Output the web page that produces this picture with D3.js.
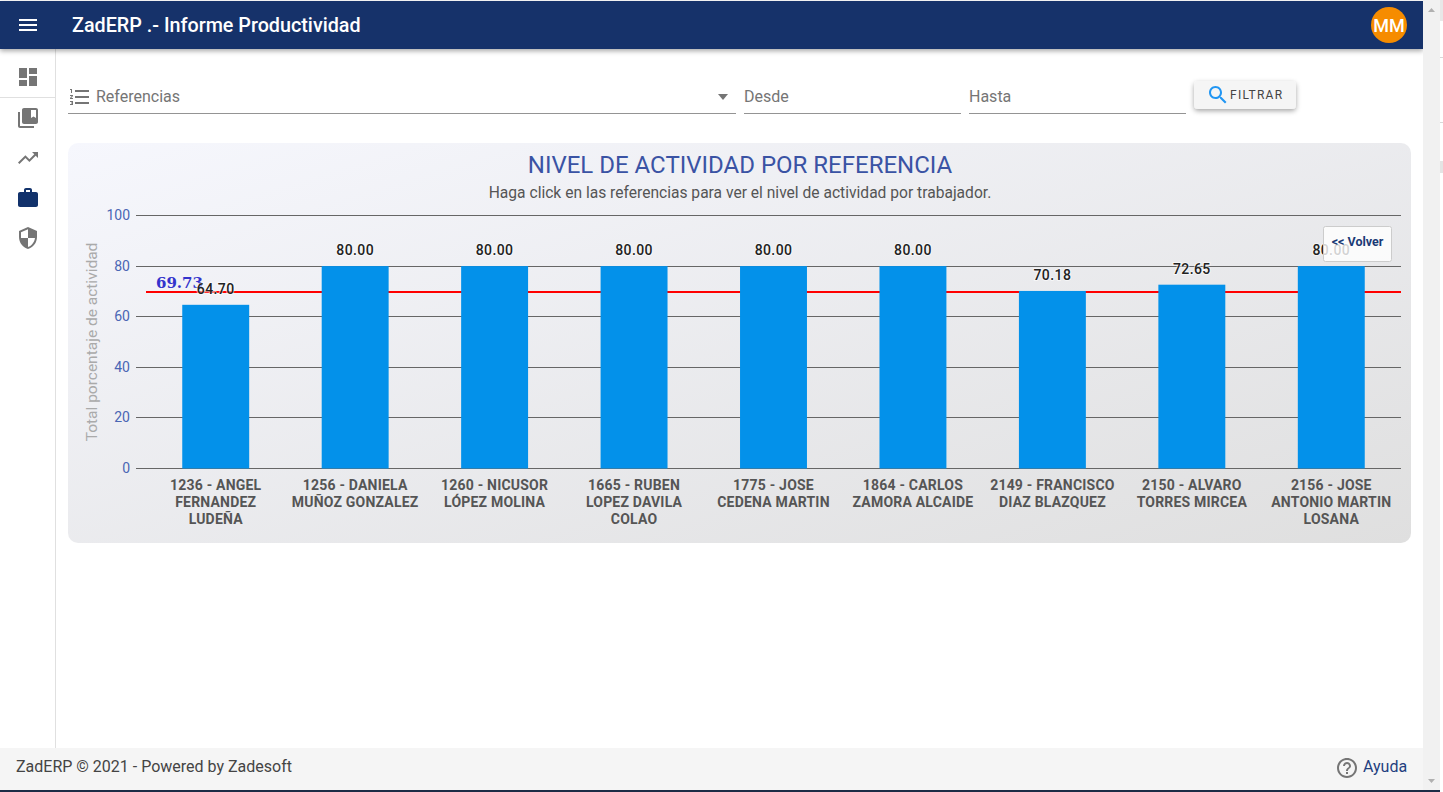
<!DOCTYPE html>
<html lang="es"><head><meta charset="utf-8"><title>ZadERP</title>
<script src="https://cdn.jsdelivr.net/npm/d3@7/dist/d3.min.js"></script>
<style>html,body{margin:0;padding:0;background:#fff;overflow:hidden}svg{display:block;font-family:Roboto,sans-serif}</style>
</head><body><svg id="c" width="1443" height="792"></svg>
<script>
const categories = [
  ["1236 - ANGEL","FERNANDEZ","LUDEÑA"],
  ["1256 - DANIELA","MUÑOZ GONZALEZ"],
  ["1260 - NICUSOR","LÓPEZ MOLINA"],
  ["1665 - RUBEN","LOPEZ DAVILA","COLAO"],
  ["1775 - JOSE","CEDENA MARTIN"],
  ["1864 - CARLOS","ZAMORA ALCAIDE"],
  ["2149 - FRANCISCO","DIAZ BLAZQUEZ"],
  ["2150 - ALVARO","TORRES MIRCEA"],
  ["2156 - JOSE","ANTONIO MARTIN","LOSANA"]
];
const values = [64.70,80,80,80,80,80,70.18,72.65,80];
const average = 69.73;
const yTicks = [0,20,40,60,80,100];

const ICON = {
  menu:"M3 18h18v-2H3v2zm0-5h18v-2H3v2zm0-7v2h18V6H3z",
  dash:"M3 13h8V3H3v10zm0 8h8v-6H3v6zm10 0h8V11h-8v10zm0-18v6h8V3h-8z",
  lib:"M4 6H2v14c0 1.1.9 2 2 2h14v-2H4V6zm16-4H8c-1.1 0-2 .9-2 2v12c0 1.1.9 2 2 2h12c1.1 0 2-.9 2-2V4c0-1.1-.9-2-2-2zm0 10l-2.5-1.5L15 12V4h5v8z",
  trend:"M16 6l2.29 2.29-4.88 4.88-4-4L2 16.59 3.41 18l6-6 4 4 6.3-6.29L22 12V6z",
  work:"M20 6h-4V4c0-1.11-.89-2-2-2h-4c-1.11 0-2 .89-2 2v2H4c-1.11 0-1.99.89-1.99 2L2 19c0 1.11.89 2 2 2h16c1.11 0 2-.89 2-2V8c0-1.11-.89-2-2-2zm-6 0h-4V4h4v2z",
  sec:"M12 1L3 5v6c0 5.55 3.84 10.74 9 12 5.16-1.26 9-6.45 9-12V5l-9-4zm0 10.99h7c-.53 4.12-3.28 7.79-7 8.94V12H5V6.3l7-3.11v8.8z",
  list:"M2 17h2v.5H3v1h1v.5H2v1h3v-4H2v1zm1-9h1V4H2v1h1v3zm-1 3h1.8L2 13.1v.9h3v-1H3.2L5 10.9V10H2v1zm5-6v2h14V5H7zm0 14h14v-2H7v2zm0-6h14v-2H7v2z",
  search:"M15.5 14h-.79l-.28-.27C15.41 12.59 16 11.11 16 9.5 16 5.91 13.09 3 9.5 3S3 5.91 3 9.5 5.91 16 9.5 16c1.61 0 3.09-.59 4.23-1.57l.27.28v.79l5 4.99L20.49 19l-4.99-5zm-6 0C7.01 14 5 11.99 5 9.5S7.01 5 9.5 5 14 7.01 14 9.5 11.99 14 9.5 14z",
  help:"M11 18h2v-2h-2v2zm1-16C6.48 2 2 6.48 2 12s4.48 10 10 10 10-4.48 10-10S17.52 2 12 2zm0 18c-4.41 0-8-3.59-8-8s3.59-8 8-8 8 3.59 8 8-3.59 8-8 8zm0-14c-2.21 0-4 1.79-4 4h2c0-1.1.9-2 2-2s2 .9 2 2c0 2-3 1.75-3 5h2c0-2.25 3-2.5 3-5 0-2.21-1.79-4-4-4z"
};

const svg = d3.select("#c");
const defs = svg.append("defs");
const grad = defs.append("linearGradient").attr("id","panel").attr("x1","0").attr("y1","0").attr("x2","1").attr("y2","1");
grad.append("stop").attr("offset","0").attr("stop-color","#f6f7fd");
grad.append("stop").attr("offset","1").attr("stop-color","#dfdfdf");
const sh = defs.append("filter").attr("id","sh").attr("x","-10%").attr("y","-50%").attr("width","120%").attr("height","220%");
sh.append("feDropShadow").attr("dx",0).attr("dy",2).attr("stdDeviation",2.5).attr("flood-color","#000").attr("flood-opacity",0.35);

function rect(x,y,w,h,fill,rx){return svg.append("rect").attr("x",x).attr("y",y).attr("width",w).attr("height",h).attr("fill",fill).attr("rx",rx||0);}
function icon(d,x,y,fill,s){return svg.append("path").attr("d",d).attr("fill",fill).attr("transform",`translate(${x},${y}) scale(${s||1})`);}
function text(t,x,y,size,fill,o){const e=svg.append("text").text(t).attr("x",x).attr("y",y).attr("font-size",size).attr("fill",fill);
  o=o||{};if(o.anchor)e.attr("text-anchor",o.anchor);if(o.weight)e.attr("font-weight",o.weight);if(o.ls)e.attr("letter-spacing",o.ls);if(o.family)e.attr("font-family",o.family);return e;}

// sidebar
svg.append("line").attr("x1",55.5).attr("x2",55.5).attr("y1",49).attr("y2",748).attr("stroke","#e0e0e0");
svg.append("line").attr("x1",0).attr("x2",55).attr("y1",97.5).attr("y2",97.5).attr("stroke","#e0e0e0");
icon(ICON.dash,16,65,"#757575");
icon(ICON.lib,16,106,"#757575");
icon(ICON.trend,16,146,"#757575");
icon(ICON.work,16,186,"#12326b");
icon(ICON.sec,16,226,"#757575");

// header
rect(0,1,1423,48,"#12326b").attr("filter","url(#sh)");
icon(ICON.menu,16,13,"#fff");
text("ZadERP .- Informe Productividad",72,32,19.75,"#fff",{weight:500});
svg.append("circle").attr("cx",1389).attr("cy",25).attr("r",18).attr("fill","#f68c00");
text("MM",1389,31.5,18,"#fff",{anchor:"middle",weight:500});

// filters
icon(ICON.list,68,85,"#757575",1);
text("Referencias",96,102,16,"#757575");
svg.append("path").attr("d",d3.line()([[718,94],[728,94],[723,100]])+"Z").attr("fill","#757575");
text("Desde",744,102,16,"#757575");
text("Hasta",969,102,16,"#757575");
[[68,736],[744,961],[969,1186]].forEach(s=>svg.append("line").attr("x1",s[0]).attr("x2",s[1]).attr("y1",113.5).attr("y2",113.5).attr("stroke","#949494"));
rect(1194,81,102,28,"#f5f5f5",4).attr("filter","url(#sh)");
icon(ICON.search,1206,83,"#2196f3");
text("FILTRAR",1230,99,12,"#444",{weight:400,ls:1.25});

// panel
rect(68,143,1343,400,"url(#panel)",10);
text("NIVEL DE ACTIVIDAD POR REFERENCIA",740,173,24,"#3a53a4",{anchor:"middle"});
text("Haga click en las referencias para ver el nivel de actividad por trabajador.",740,198,15.6,"#555",{anchor:"middle"});

// chart
const y = d3.scaleLinear().domain([0,100]).range([468.5,215.5]);
const x = d3.scaleBand().domain(categories.map(c=>c.join(" "))).range([146,1401]).paddingInner(0.52).paddingOuter(0.26);

const yAxis = svg.append("g").attr("transform","translate(1401,0)")
  .call(d3.axisLeft(y).tickValues(yTicks).tickSize(1265).tickPadding(6).offset(0));
yAxis.select(".domain").remove();
yAxis.selectAll(".tick").attr("transform",d=>`translate(0,${Math.floor(y(d))+0.5})`);
yAxis.selectAll("line").attr("stroke","#666");
yAxis.selectAll("text").attr("font-size",14).attr("font-family","Roboto").attr("fill","#4a66b4");

text("Total porcentaje de actividad",0,0,15.5,"#aaa",{anchor:"middle"}).attr("transform","translate(97,342) rotate(-90)");

svg.append("line").attr("x1",146).attr("x2",1401).attr("y1",y(average)).attr("y2",y(average)).attr("stroke","#f00").attr("stroke-width",2);
text(average.toFixed(2),156,288,15,"#3333cc",{weight:700,family:"'DejaVu Serif',serif"});

svg.append("g").selectAll("rect").data(values).join("rect")
  .attr("x",(d,i)=>x(categories[i].join(" ")))
  .attr("width",x.bandwidth())
  .attr("y",d=>y(d)).attr("height",d=>y(0)-y(d)).attr("fill","#0391ea");

svg.append("g").selectAll("text").data(values).join("text")
  .attr("x",(d,i)=>x(categories[i].join(" "))+x.bandwidth()/2)
  .attr("y",d=>y(d)-11).attr("text-anchor","middle")
  .attr("font-size",14).attr("font-weight",500).attr("letter-spacing",0.4).attr("fill","#222")
  .attr("stroke","#fff").attr("stroke-width",2).attr("paint-order","stroke").attr("stroke-opacity",0.6)
  .text(d=>d.toFixed(2));

const xAxis = svg.append("g").attr("transform","translate(0,468.5)").call(d3.axisBottom(x).tickSize(0).tickFormat(""));
xAxis.select(".domain").remove();
xAxis.selectAll(".tick text").each(function(d,i){
  const t=d3.select(this).attr("font-size",14).attr("font-weight",700).attr("font-family","Roboto").attr("letter-spacing",0.2).attr("fill","#555").attr("y",null).attr("dy",null).text(null);
  categories[i].forEach((ln,k)=>t.append("tspan").attr("x",0).attr("y",21+k*17).text(ln));
});

// volver button
rect(1323.5,226.5,68,35,"#fff",2).attr("fill-opacity",0.8).attr("stroke","#ccc");
text("<< Volver",1357.5,246,12.5,"#1a3a75",{anchor:"middle",weight:700});

// footer
rect(0,748,1423,42,"#f5f5f5");
text("ZadERP © 2021 - Powered by Zadesoft",16,772,16,"#444");
icon(ICON.help,1335,756,"#757575");
text("Ayuda",1363,772,16,"#1f3f7f");

// scrollbar and window edge
rect(1423,0,17,792,"#f1f1f1");
rect(1440,0,3,21,"#e8e8e8");
rect(1440,57,3,1,"#d8d8d8");
rect(1440,122,3,1,"#d8d8d8");
rect(1440,161,3,12,"#e4e4e4");
svg.append("path").attr("d",d3.line()([[1428,12],[1435,12],[1431.5,8]])+"Z").attr("fill","#b0b0b0");
svg.append("path").attr("d",d3.line()([[1428,779],[1435,779],[1431.5,783]])+"Z").attr("fill","#b0b0b0");
rect(0,790,1440,2,"#1c2b45");
</script></body></html>
